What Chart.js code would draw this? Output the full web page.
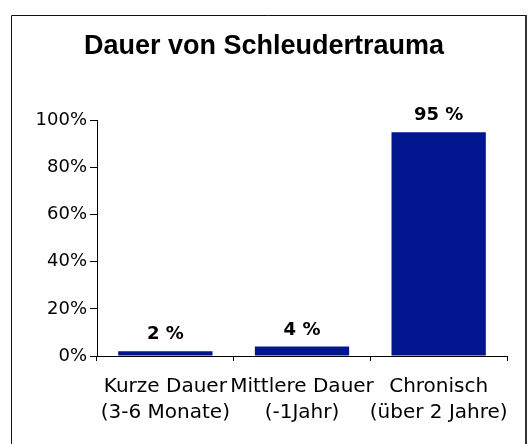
<!DOCTYPE html>
<html>
<head>
<meta charset="utf-8">
<script src="https://cdn.jsdelivr.net/npm/chart.js@4"></script>
<style>
  body { margin: 0; background: #fff; }
  canvas { display: block; }
</style>
</head>
<body>
<canvas id="chart" width="528" height="444"></canvas>
<script>
// chart data
const categories = [
  ['Kurze Dauer', '(3-6 Monate)'],
  ['Mittlere Dauer', '(-1Jahr)'],
  ['Chronisch', '(über 2 Jahre)']
];
const values = [2, 4, 95];
const yTicks = [0, 20, 40, 60, 80, 100];

const barColor = '#02168f';

// frame around the whole chart
const framePlugin = {
  id: 'frame',
  beforeDraw(chart) {
    const ctx = chart.ctx;
    ctx.save();
    ctx.fillStyle = '#fff';
    ctx.fillRect(0, 0, chart.width, chart.height);
    ctx.strokeStyle = '#111';
    ctx.lineWidth = 1;
    ctx.beginPath();
    ctx.moveTo(11.5, 460);
    ctx.lineTo(11.5, 15.5);
    ctx.lineTo(526, 15.5);
    ctx.stroke();
    ctx.lineWidth = 2;
    ctx.strokeStyle = '#333';
    ctx.beginPath();
    ctx.moveTo(526, 15);
    ctx.lineTo(526, 460);
    ctx.stroke();
    ctx.restore();
  }
};

// value labels above the bars
const valueLabels = {
  id: 'valueLabels',
  afterDatasetsDraw(chart) {
    const ctx = chart.ctx;
    const meta = chart.getDatasetMeta(0);
    ctx.save();
    ctx.font = 'bold 18px "DejaVu Sans"';
    ctx.fillStyle = '#000';
    ctx.textAlign = 'center';
    ctx.textBaseline = 'alphabetic';
    meta.data.forEach((bar, i) => {
      ctx.fillText(values[i] + ' %', bar.x, bar.y - 12);
    });
    ctx.restore();
  }
};

new Chart(document.getElementById('chart'), {
  type: 'bar',
  data: {
    labels: categories,
    datasets: [{
      data: values,
      backgroundColor: barColor,
      borderWidth: 0,
      barPercentage: 0.69,
      categoryPercentage: 1
    }]
  },
  options: {
    responsive: false,
    animation: false,
    layout: {
      padding: { left: 21, right: 21, top: 0, bottom: 0 }
    },
    plugins: {
      legend: { display: false },
      tooltip: { enabled: false },
      title: {
        display: true,
        text: 'Dauer von Schleudertrauma',
        color: '#000',
        font: { family: '"Liberation Sans", Arial', size: 27, weight: 'bold', lineHeight: 1.2 },
        padding: { top: 30, bottom: 58 }
      }
    },
    scales: {
      x: {
        grid: {
          display: true,
          drawOnChartArea: false,
          drawTicks: true,
          tickLength: 5,
          color: '#000',
          offset: true
        },
        border: { display: true, color: '#000', width: 1 },
        ticks: {
          color: '#000',
          padding: 13,
          maxRotation: 0,
          autoSkip: false,
          font: { family: '"DejaVu Sans"', size: 20, lineHeight: 1.28 }
        },
        afterFit(scale) { scale.height = 88; }
      },
      y: {
        min: 0,
        max: 100,
        grid: {
          display: true,
          drawOnChartArea: false,
          drawTicks: true,
          tickLength: 7,
          color: '#000'
        },
        border: { display: true, color: '#000', width: 1 },
        afterBuildTicks(scale) {
          scale.ticks = yTicks.map(v => ({ value: v }));
        },
        ticks: {
          color: '#000',
          padding: 3,
          font: { family: '"DejaVu Sans"', size: 18 },
          callback: v => v + '%'
        },
        afterFit(scale) { scale.width = 76; }
      }
    }
  },
  plugins: [framePlugin, valueLabels]
});
</script>
</body>
</html>
